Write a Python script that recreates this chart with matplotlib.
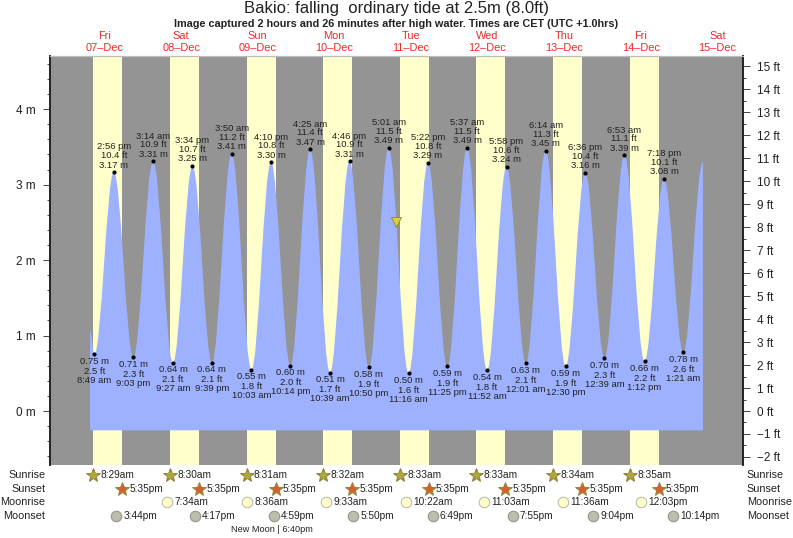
#!/usr/bin/env python3
"""Bakio tide chart, 07-Dec to 15-Dec, high and low water with sun and moon rows."""

import matplotlib
matplotlib.use("Agg")
import matplotlib.pyplot as plt
from matplotlib.patches import PathPatch
from matplotlib.path import Path
from matplotlib.transforms import blended_transform_factory

plt.rcParams["font.family"] = ["Liberation Sans", "DejaVu Sans"]

W, H = 793, 538
GREY = "#949494"
DAYLIGHT = "#ffffcc"
WATER = "#9db1ff"
RED = "#ee2a2a"
INK = "#222222"

# extremes of the tide, in order; first one is a low
tide_day = [7, 7, 7, 8, 8, 8, 8, 9, 9, 9, 9, 10, 10, 10, 10, 11,
            11, 11, 11, 12, 12, 12, 13, 13, 13, 13, 14, 14, 14, 14, 15]
tide_time = ["8:49 am", "2:56 pm", "9:03 pm", "3:14 am", "9:27 am", "3:34 pm", "9:39 pm", "3:50 am",
             "10:03 am", "4:10 pm", "10:14 pm", "4:25 am", "10:39 am", "4:46 pm", "10:50 pm", "5:01 am",
             "11:16 am", "5:22 pm", "11:25 pm", "5:37 am", "11:52 am", "5:58 pm", "12:01 am", "6:14 am",
             "12:30 pm", "6:36 pm", "12:39 am", "6:53 am", "1:12 pm", "7:18 pm", "1:21 am"]
tide_m = [0.75, 3.17, 0.71, 3.31, 0.64, 3.25, 0.64, 3.41,
          0.55, 3.30, 0.60, 3.47, 0.51, 3.31, 0.58, 3.49,
          0.50, 3.29, 0.59, 3.49, 0.54, 3.24, 0.63, 3.45,
          0.59, 3.16, 0.70, 3.39, 0.66, 3.08, 0.78]
tide_ft = ["2.5", "10.4", "2.3", "10.9", "2.1", "10.7", "2.1", "11.2",
           "1.8", "10.8", "2.0", "11.4", "1.7", "10.9", "1.9", "11.5",
           "1.6", "10.8", "1.9", "11.5", "1.8", "10.6", "2.1", "11.3",
           "1.9", "10.4", "2.3", "11.1", "2.2", "10.1", "2.6"]

# where the water area starts and stops
curve_start = (7, "7:28 am", 1.07)
curve_end = (15, "7:30 am", 3.30)
water_floor = -0.256

now_time = (11, "7:27 am")
now_m = 2.5

day_names = ["Fri", "Sat", "Sun", "Mon", "Tue", "Wed", "Thu", "Fri", "Sat"]
day_numbers = [7, 8, 9, 10, 11, 12, 13, 14, 15]

sun_days = [7, 8, 9, 10, 11, 12, 13, 14]
sunrise = ["8:29am", "8:30am", "8:31am", "8:32am", "8:33am", "8:33am", "8:34am", "8:35am"]
sunset = ["5:35pm"] * 8

moonrise_days = [8, 9, 10, 11, 12, 13, 14]
moonrise = ["7:34am", "8:36am", "9:33am", "10:22am", "11:03am", "11:36am", "12:03pm"]
moonset_days = [7, 8, 9, 10, 11, 12, 13, 14]
moonset = ["3:44pm", "4:17pm", "4:59pm", "5:50pm", "6:49pm", "7:55pm", "9:04pm", "10:14pm"]

m_ticks = [0, 1, 2, 3, 4]
ft_ticks = list(range(-2, 16))
row_names = ["Sunrise", "Sunset", "Moonrise", "Moonset"]


def to_x(day, clock):
    """days since 00:00 on 07-Dec"""
    clock = clock.replace(" ", "")
    hh, mm = clock[:-2].split(":")
    hour = int(hh) % 12 + (12 if clock.endswith("pm") else 0)
    return day - 7 + (hour + int(mm) / 60) / 24


def fmt_num(v, unit):
    return f"{str(v).replace('-', chr(0x2212))} {unit}"


fig = plt.figure(figsize=(W / 100, H / 100), dpi=100)
left, right, top, bottom = 49.5, 743.0, 56.0, 464.5
ax = fig.add_axes([left / W, 1 - bottom / H, (right - left) / W, (bottom - top) / H])

x0 = 66.2
px_day = 76.6
ax.set_xlim((left - x0) / px_day, (right - x0) / px_day)
y0 = 411.0
px_m = 75.45
ax.set_ylim((y0 - bottom) / px_m, (y0 - top) / px_m)
ax.set_facecolor(GREY)
ax.set_xticks([])

for d, rise, down in zip(sun_days, sunrise, sunset):
    ax.axvspan(to_x(d, rise), to_x(d, down), color=DAYLIGHT, lw=0, zorder=1)

# water area: one cubic piece per half tide, flat at both ends of each piece
xs = [to_x(curve_start[0], curve_start[1])]
ys = [curve_start[2]]
xs += [to_x(d, t) for d, t in zip(tide_day, tide_time)]
ys += tide_m
xs.append(to_x(curve_end[0], curve_end[1]))
ys.append(curve_end[2])

verts = [(xs[0], water_floor), (xs[0], ys[0])]
codes = [Path.MOVETO, Path.LINETO]
for i in range(len(xs) - 1):
    dx = xs[i + 1] - xs[i]
    verts += [(xs[i] + 0.364 * dx, ys[i]), (xs[i + 1] - 0.364 * dx, ys[i + 1]), (xs[i + 1], ys[i + 1])]
    codes += [Path.CURVE4] * 3
verts += [(xs[-1], water_floor), (xs[0], water_floor)]
codes += [Path.LINETO, Path.CLOSEPOLY]
ax.add_patch(PathPatch(Path(verts, codes), facecolor=WATER, edgecolor="none", zorder=2))

# high and low labels
tide_x = xs[1:-1]
ax.scatter(tide_x, tide_m, s=9, color="black", lw=0, zorder=4)
for i, (x, m, ft, t) in enumerate(zip(tide_x, tide_m, tide_ft, tide_time)):
    high = m > 2
    sign = 1 if high else -1
    lines = [(f"{m:.2f} m", 6.8 if high else 7.0),
             (f"{ft} ft", 16.3 if high else 17.0),
             (t, 25.0 if high else 26.0)]
    for txt, off in lines:
        ax.annotate(txt, (x, m), xytext=(0, sign * off * 0.72), textcoords="offset points",
                    ha="center", va="center", fontsize=6.8, color=INK, zorder=5)

ax.plot(to_x(*now_time), now_m, marker="v", ms=7, mfc="#d8d040", mec="#8a8a30", mew=0.6, zorder=5)

# axes dressing
ax.set_yticks(m_ticks)
ax.set_yticklabels([fmt_num(v, "m") for v in m_ticks], fontsize=8.5, color=INK)
ax.set_yticks([i * 0.2 for i in range(-3, 24)], minor=True)
ax.tick_params(axis="y", which="major", length=5, width=0.7, pad=5, color="#444444")
ax.tick_params(axis="y", which="minor", length=2.5, width=0.7, color="#444444")

ax2 = ax.twinx()
ax2.set_ylim(ax.get_ylim()[0] * 3.28084, ax.get_ylim()[1] * 3.28084)
ax2.set_yticks(ft_ticks)
ax2.set_yticklabels([fmt_num(v, "ft") for v in ft_ticks], fontsize=8.5, color=INK)
ax2.set_yticks([v + 0.5 for v in ft_ticks[:-1]], minor=True)
ax2.tick_params(axis="y", which="major", length=5, width=0.7, pad=5, color="#444444")
ax2.tick_params(axis="y", which="minor", length=2.5, width=0.7, color="#444444")

for a in (ax, ax2):
    a.spines["left"].set(color=INK, linewidth=1.2)
    a.spines["right"].set(color=INK, linewidth=1.2)
    a.spines["top"].set(color="#bdbdbd", linewidth=0.8)
    a.spines["bottom"].set_visible(False)

# rows below and above the plot, x in days and y in figure pixels from the top
tr = blended_transform_factory(ax.transData, fig.transFigure)


def fy(px):
    return 1 - px / H


for name, num, i in zip(day_names, day_numbers, range(len(day_names))):
    ax.text(i + 0.5, fy(36), name, transform=tr, ha="center", va="center",
            fontsize=7.9, color=RED, clip_on=False)
    ax.text(i + 0.5, fy(48), f"{num:02d}\u2013Dec", transform=tr, ha="center", va="center",
            fontsize=7.9, color=RED, clip_on=False)


def astro_row(days, clocks, ypx, draw):
    for d, c in zip(days, clocks):
        x = to_x(d, c)
        draw(x, fy(ypx))
        ax.annotate(c, (x, fy(ypx)), xycoords=tr, xytext=(5.2, -0.3), textcoords="offset points",
                    ha="left", va="center", fontsize=7.3, color=INK, annotation_clip=False)


def star(face):
    def draw(x, y):
        ax.plot(x, y, marker="*", ms=10, mfc="#a68a3c", mec="#8f7a35", mew=0.6,
                transform=tr, clip_on=False, zorder=6)
        ax.plot(x, y, marker="p", ms=5.4, mfc=face, mec="none", transform=tr, clip_on=False, zorder=7)
    return draw


def circle(face, edge):
    def draw(x, y):
        ax.plot(x, y, marker="o", ms=7.6, mfc=face, mec=edge, mew=0.7,
                transform=tr, clip_on=False, zorder=6)
    return draw


astro_row(sun_days, sunrise, 475, star("#a9a93c"))
astro_row(sun_days, sunset, 488.5, star("#d95f2a"))
astro_row(moonrise_days, moonrise, 502, circle(DAYLIGHT, "#b5b5a5"))
astro_row(moonset_days, moonset, 516, circle("#bdbdad", "#8f8f85"))

for name, ypx in zip(row_names, [475, 488.5, 502, 516]):
    fig.text(45.5 / W, fy(ypx), name, ha="right", va="center", fontsize=7.8, color=INK)
    fig.text(746.7 / W, fy(ypx), name, ha="left", va="center", fontsize=7.8, color=INK)

fig.text(272 / W, fy(530), "New Moon | 6:40pm", ha="center", va="center", fontsize=6.6, color=INK)

fig.text(396.5 / W, fy(8.5), "Bakio: falling  ordinary tide at 2.5m (8.0ft)",
         ha="center", va="center", fontsize=12, color=INK)
fig.text(396.5 / W, fy(24.3), "Image captured 2 hours and 26 minutes after high water. Times are CET (UTC +1.0hrs)",
         ha="center", va="center", fontsize=7.85, fontweight="bold", color=INK)

fig.savefig("out.png", dpi=100)
print("wrote out.png")
